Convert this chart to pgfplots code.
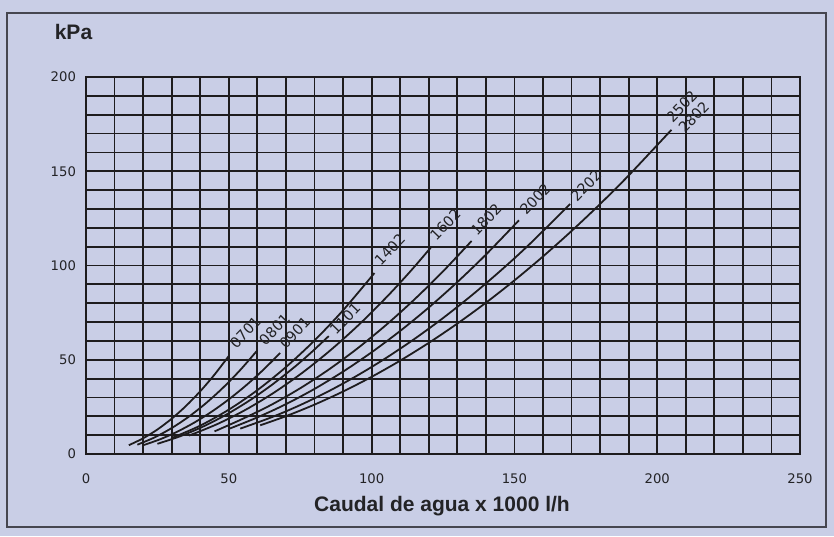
\documentclass[border=0pt]{standalone}
\usepackage{fontspec}
\setmainfont{DejaVu Sans}
\newfontfamily\lib{Liberation Sans}
\usepackage{pgfplots}
\pgfplotsset{compat=1.18}
\definecolor{bg}{RGB}{201,206,230}
\definecolor{framec}{RGB}{70,70,80}
\definecolor{txt}{RGB}{35,35,38}
\definecolor{ln}{RGB}{30,28,30}
\tikzset{lbl/.style={rotate=46, font=\fontsize{7.2}{8}\selectfont, text=txt, inner sep=1pt, xshift=0.8pt, yshift=1.2pt},
         crv/.style={draw=ln, solid, line width=0.9pt, smooth, mark=none}}
\begin{document}
\begin{tikzpicture}
\fill[bg] (-43pt,-41pt) rectangle (374pt,227pt);
\draw[framec, line width=1pt] (-39.5pt,-36.5pt) rectangle (370pt,220.5pt);
\begin{axis}[
  at={(0pt,0pt)}, anchor=south west,
  scale only axis, width=357pt, height=188.5pt,
  xmin=0, xmax=250, ymin=0, ymax=200,
  xtick={0,50,...,250}, ytick={0,50,...,200},
  minor x tick num=4, minor y tick num=4,
  grid=both,
  major grid style={ln, line width=0.9pt},
  minor grid style={ln, line width=0.9pt},
  major tick length=0pt, minor tick length=0pt,
  axis line style={line width=1.1pt, ln},
  tick label style={font=\fontsize{6.6}{8}\selectfont, text=txt},
  /pgf/number format/assume math mode=true,
  yticklabel style={xshift=-1.5pt},
  xticklabel style={yshift=-6.5pt},
  clip=false,
]
% 0701
\addplot[crv] coordinates {(15,4.68) (20,8.32) (25,13.0) (30,18.72) (35,25.48) (40,33.28) (45,42.12) (50,52.0)};
% 0801
\addplot[crv] coordinates {(18,4.95) (24,8.80) (30,13.75) (36,19.80) (42,26.95) (48,35.2) (54,44.55) (60,55.0)};
% 0901
\addplot[crv] coordinates {(20,4.64) (26,7.84) (32,11.87) (38,16.74) (44,22.44) (50,28.98) (56,36.35) (62,44.55) (68,53.6)};
% 1101
\addplot[crv] coordinates {(25,5.41) (33,9.43) (41,14.56) (49,20.79) (57,28.14) (65,36.59) (73,46.15) (79,54.05) (85,62.57)};
% 1402
\addplot[crv] coordinates {(30,8.47) (40,15.06) (50,23.53) (60,33.88) (70,46.11) (80,60.22) (90,76.22) (101,96.0)};
% 1602
\addplot[crv] coordinates {(36,9.74) (46,15.90) (56,23.56) (66,32.73) (76,43.39) (86,55.57) (96,69.24) (106,84.42) (114,97.64) (121,110.0)};
% 1802
\addplot[crv] coordinates {(45,12.0) (55,18.76) (65,26.20) (75,34.88) (85,44.80) (95,55.96) (105,68.36) (115,82.0) (125,96.88) (135,113.0)};
% 2002
\addplot[crv] coordinates {(50,13.3) (60,19.42) (70,26.44) (80,34.53) (90,43.70) (100,53.95) (110,65.28) (120,77.69) (130,91.18) (140,105.74) (151.6,124.0)};
% 2202
\addplot[crv] coordinates {(54,13.46) (65,19.50) (75,25.96) (85,33.34) (95,41.65) (105,50.88) (115,61.03) (125,72.11) (135,84.11) (145,97.03) (155,110.87) (169.5,132.6)};
% 2502 / 2802
\addplot[crv] coordinates {(61,15.23) (70,20.06) (80,26.20) (90,33.15) (100,40.93) (110,49.53) (120,58.94) (130,69.17) (140,80.22) (150,92.09) (160,104.78) (170,118.29) (180,132.61) (190,147.76) (205,172.0)};

\node[lbl] at (axis cs:56.0,63.1) {0701};
\node[lbl] at (axis cs:66.2,64.7) {0801};
\node[lbl] at (axis cs:73.3,62.8) {0901};
\node[lbl] at (axis cs:90.9,70.2) {1101};
\node[lbl] at (axis cs:106.6,107) {1402};
\node[lbl] at (axis cs:126,120.3) {1602};
\node[lbl] at (axis cs:140.3,122.9) {1802};
\node[lbl] at (axis cs:157.5,133.8) {2002};
\node[lbl] at (axis cs:175.3,140.9) {2202};
\node[lbl] at (axis cs:208.8,183) {2502};
\node[lbl] at (axis cs:213,177.2) {2802};
\end{axis}
\node[font=\lib\bfseries\fontsize{10.5}{12}\selectfont, text=txt] at (-6.25pt,211.25pt) {kPa};
\node[font=\lib\bfseries\fontsize{10.5}{12}\selectfont, text=txt] at (178pt,-26pt) {Caudal de agua x 1000 l/h};
\end{tikzpicture}
\end{document}
